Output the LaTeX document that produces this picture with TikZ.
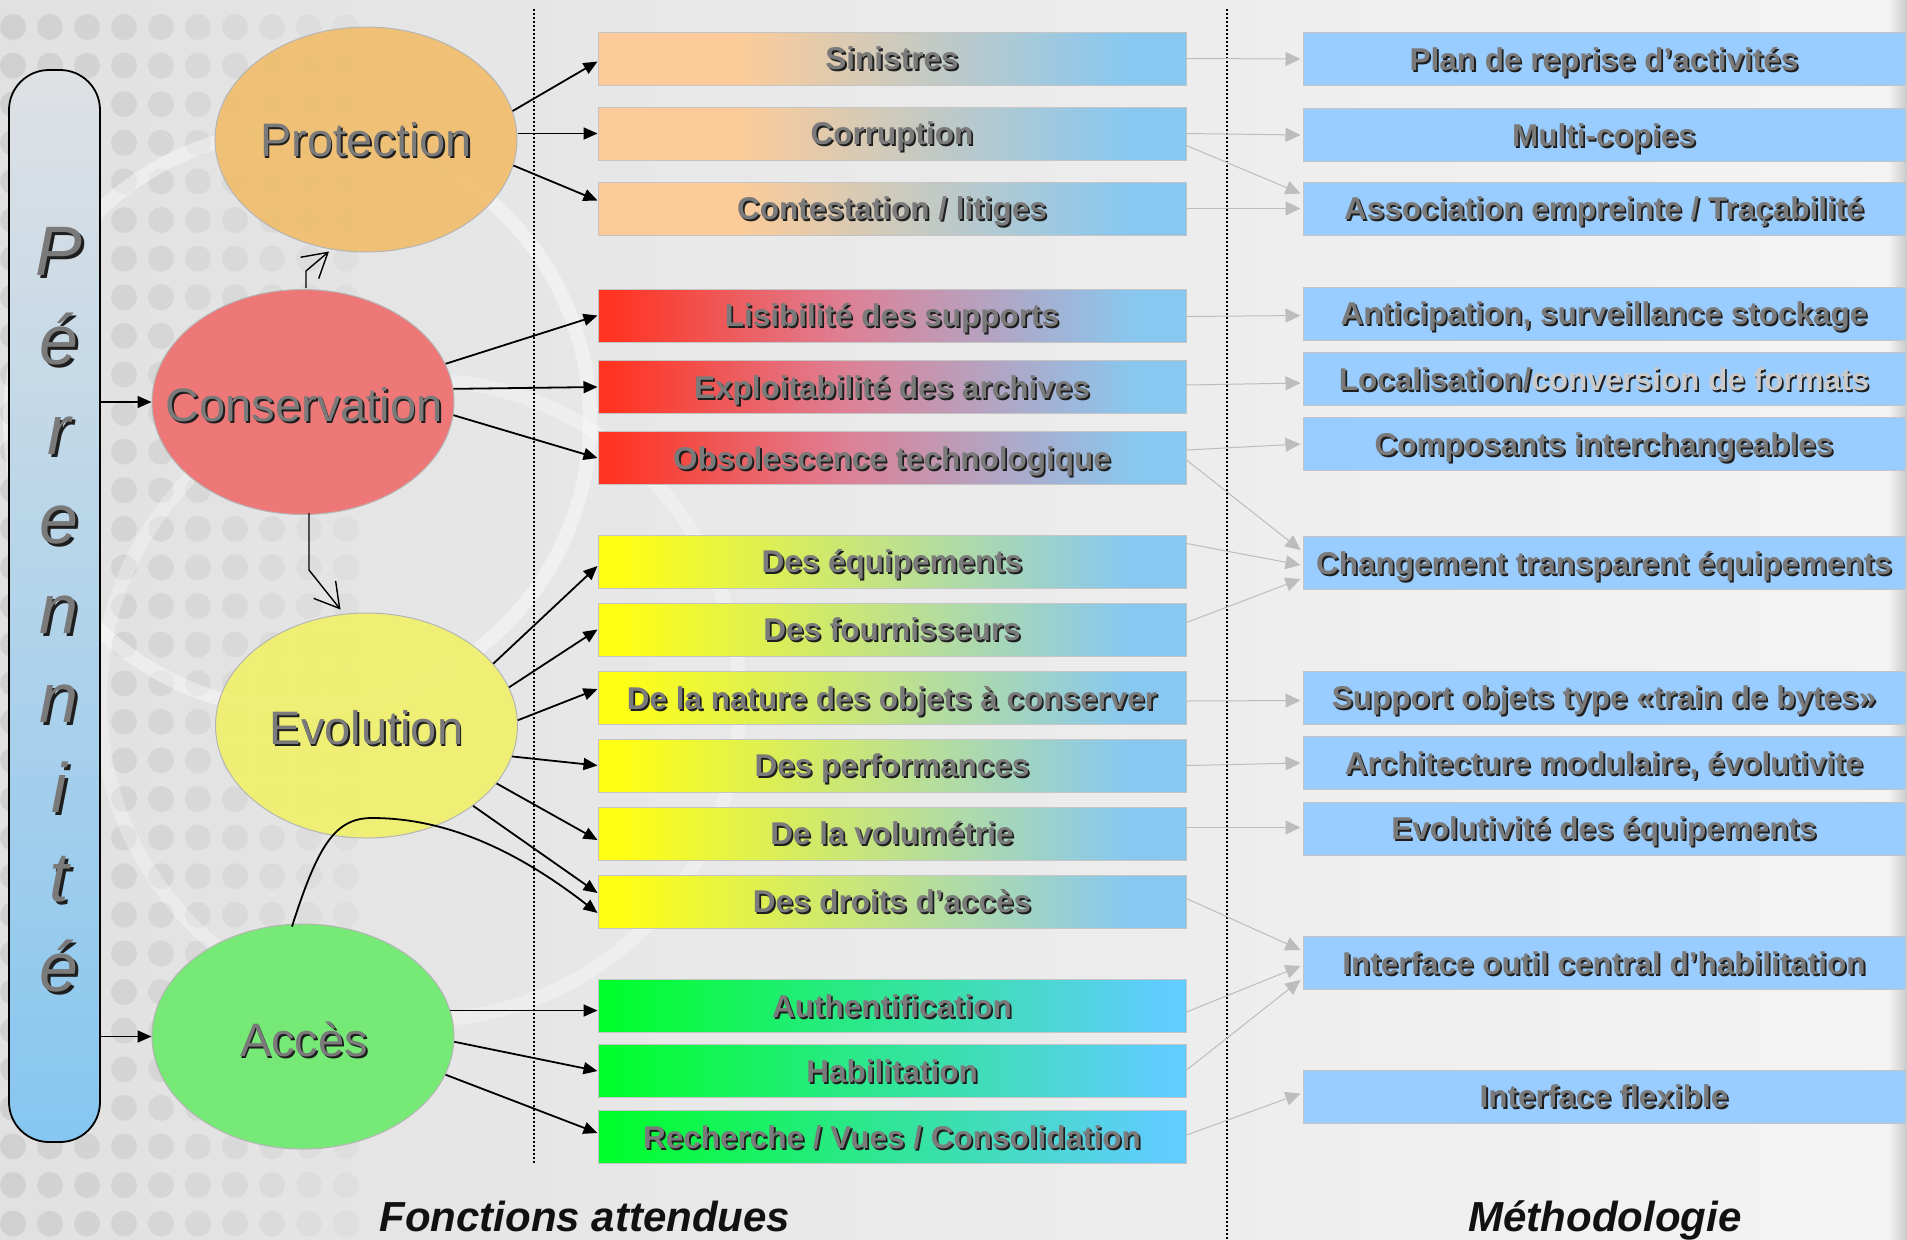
\documentclass[tikz,border=0pt]{standalone}
\usepackage{fontspec}
\setmainfont{Liberation Sans}
\usetikzlibrary{arrows.meta,calc,shapes.geometric}
\definecolor{bgL}{HTML}{E1E1E1}
\definecolor{bgR}{HTML}{F4F4F4}
\definecolor{dotc}{HTML}{D0D0D0}
\definecolor{cPeach}{HTML}{FCCB99}
\definecolor{cBlue}{HTML}{88C8F0}
\definecolor{cRed}{HTML}{FF3320}
\definecolor{cPink}{HTML}{DE8095}
\definecolor{cYel}{HTML}{FFFF14}
\definecolor{cGrn}{HTML}{00FF2C}
\definecolor{cCyan}{HTML}{60CCFF}
\definecolor{rfill}{HTML}{99CCFF}
\definecolor{boxb}{HTML}{C4C4C4}
\definecolor{gline}{HTML}{BDBDBD}
\definecolor{txg}{HTML}{7A7A7A}
\definecolor{txl}{HTML}{CACACA}
\definecolor{shd}{HTML}{1E1E1E}
\definecolor{ellb}{HTML}{B5B5B5}
\definecolor{eOr}{HTML}{F0BE6E}
\definecolor{eRd}{HTML}{EF7070}
\definecolor{eYe}{HTML}{F0F06E}
\definecolor{eGr}{HTML}{6EEA6E}
\definecolor{barT}{HTML}{DFE1E4}
\definecolor{barB}{HTML}{86C6F0}
\definecolor{stripc}{HTML}{CACACA}
\definecolor{titc}{HTML}{111111}
\pgfdeclarehorizontalshading{shPeach}{100bp}{color(0bp)=(cPeach); color(25bp)=(cPeach); color(37bp)=(cPeach); color(70bp)=(cBlue); color(100bp)=(cBlue)}
\pgfdeclarehorizontalshading{shRed}{100bp}{color(0bp)=(cRed); color(26bp)=(cRed); color(46bp)=(cPink); color(71bp)=(cBlue); color(100bp)=(cBlue)}
\pgfdeclarehorizontalshading{shYel}{100bp}{color(0bp)=(cYel); color(27bp)=(cYel); color(70bp)=(cBlue); color(100bp)=(cBlue)}
\pgfdeclarehorizontalshading{shGrn}{100bp}{color(0bp)=(cGrn); color(26bp)=(cGrn); color(73bp)=(cCyan); color(100bp)=(cCyan)}
\newcommand\lc[1]{\textcolor{txl}{#1}}
\newcommand\sht[1]{\makebox[0pt][l]{\kern0.9pt\raisebox{-0.9pt}{\let\lc\relax\textcolor{shd}{#1}}}\textcolor{txg}{#1}}
\newcommand\shp[1]{\makebox[0pt][l]{\kern1.5pt\raisebox{-1.5pt}{\textcolor{shd}{#1}}}\textcolor{txg}{#1}}
\begin{document}
\begin{tikzpicture}[x=0.5pt,y=-0.5pt,
 ell/.style={ellipse, draw=ellb, line width=0.5pt, minimum width=151pt, minimum height=112.5pt, inner sep=0pt, fill opacity=0.93},
 etxt/.style={font=\fontsize{23.5pt}{26pt}\selectfont, text height=16.8pt, text depth=0pt, inner sep=0pt},
 lbox/.style={draw=boxb, line width=0.5pt, minimum width=294pt, minimum height=26.5pt, inner sep=0pt, font=\fontsize{15.75pt}{18pt}\selectfont\bfseries, text height=11.3pt, text depth=0pt},
 rbox/.style={lbox, minimum width=301pt, fill=rfill},
 pk/.style={lbox, shade, shading=shPeach},
 rd/.style={lbox, shade, shading=shRed},
 ye/.style={lbox, shade, shading=shYel},
 gr/.style={lbox, shade, shading=shGrn},
 barr/.style={line width=0.9pt, -{Triangle[length=7pt,width=6pt]}},
 oarr/.style={line width=0.7pt, -{Straight Barb[length=12pt,width=14pt]}},
 garr/.style={draw=gline, line width=0.5pt, -{Triangle[length=7.5pt,width=7pt]}},
 dline/.style={line width=0.6pt, dash pattern=on 1pt off 1pt},
 perl/.style={font=\fontsize{35pt}{40pt}\selectfont\itshape, inner sep=0pt, anchor=base},
 titl/.style={font=\fontsize{21pt}{24pt}\selectfont\bfseries\itshape, text=titc, inner sep=0pt, anchor=base}
]
\useasboundingbox (0,0) rectangle (1907,1239);
% background
\shade[left color=bgL, right color=bgR] (0,0) rectangle (1907,1239);
\foreach \i in {0,...,9}{\foreach \j in {0,...,31}{\pgfmathsetmacro\op{0.95-0.075*\i}\fill[dotc, fill opacity=\op] ({13+37*\i},{27+38.6*\j}) circle (13);}}
\draw[white, line width=7pt, opacity=0.4] (300,420) circle (290);
\draw[white, line width=7pt, opacity=0.3] (420,700) circle (320);
\shade[left color=bgR, right color=stripc] (1888,0) rectangle (1907,1239);
\draw[dline] (534,9) -- (534,1163);
\draw[dline] (1227,9) -- (1227,1239);
% Perennite bar
\node[draw, line width=0.9pt, rounded corners=20pt, minimum width=45.5pt, minimum height=536pt, inner sep=0pt, top color=barT, bottom color=barB] (bar) at (54.5,606) {};
\node[perl] (l1) at (59,275) {\shp{P}};
\node[perl] (l2) at (59,364.5) {\shp{é}};
\node[perl] (l3) at (59,454) {\shp{r}};
\node[perl] (l4) at (59,543.5) {\shp{e}};
\node[perl] (l5) at (59,633) {\shp{n}};
\node[perl] (l6) at (59,722.5) {\shp{n}};
\node[perl] (l7) at (59,812) {\shp{i}};
\node[perl] (l8) at (59,901.5) {\shp{t}};
\node[perl] (l9) at (59,991) {\shp{é}};
% ellipses
\node[ell, fill=eOr] (prot) at (366,139.5) {};
\node[ell, fill=eRd] (cons) at (303,402) {};
\node[ell, fill=eYe] (evo) at (366.5,725.5) {};
\node[ell, fill=eGr] (acc) at (303,1036.5) {};
% left boxes
\node[pk] (sin) at (892,58.5) {\sht{Sinistres}};
\node[pk] (corr) at (892,133.5) {\sht{Corruption}};
\node[pk] (cont) at (892,208.5) {\sht{Contestation / litiges}};
\node[rd] (lis) at (892,315.5) {\sht{Lisibilité des supports}};
\node[rd] (expl) at (892,387) {\sht{Exploitabilité des archives}};
\node[rd] (obs) at (892,458) {\sht{Obsolescence technologique}};
\node[ye] (equip) at (892,561.5) {\sht{Des équipements}};
\node[ye] (four) at (892,629.5) {\sht{Des fournisseurs}};
\node[ye] (nat) at (892,698) {\sht{De la nature des objets à conserver}};
\node[ye] (perf) at (892,765.5) {\sht{Des performances}};
\node[ye] (vol) at (892,833.5) {\sht{De la volumétrie}};
\node[ye] (droits) at (892,901.5) {\sht{Des droits d’accès}};
\node[gr] (auth) at (892,1006) {\sht{Authentification}};
\node[gr] (hab) at (892,1071) {\sht{Habilitation}};
\node[gr] (rech) at (892,1137) {\sht{Recherche / Vues / Consolidation}};
% right boxes
\node[rbox] (plan) at (1604,59) {\sht{Plan de reprise d’activités}};
\node[rbox] (multi) at (1604,135) {\sht{Multi-copies}};
\node[rbox] (assoc) at (1604,208.5) {\sht{Association empreinte / Traçabilité}};
\node[rbox] (antic) at (1604,313.5) {\sht{Anticipation, surveillance stockage}};
\node[rbox] (loc) at (1604,379) {\sht{Localisation/\lc{conversion de formats}}};
\node[rbox] (comp) at (1604,444) {\sht{Composants interchangeables}};
\node[rbox] (chg) at (1604,563) {\sht{Changement transparent équipements}};
\node[rbox] (supp) at (1604,697.5) {\sht{Support objets type «train de bytes»}};
\node[rbox] (arch) at (1604,763) {\sht{Architecture modulaire, évolutivite}};
\node[rbox] (evol) at (1604,828.5) {\sht{Evolutivité des équipements}};
\node[rbox] (intf) at (1604,963) {\sht{Interface outil central d’habilitation}};
\node[rbox] (flex) at (1604,1096.5) {\sht{Interface flexible}};
% gray connectors
\draw[garr] (sin.east) -- ($(plan.west)+(-2,0)$);
\draw[garr] (corr.east) -- ($(multi.west)+(-2,0)$);
\draw[garr] ($(corr.east)+(0,12)$) -- ($(assoc.west)+(-2,-15)$);
\draw[garr] (cont.east) -- ($(assoc.west)+(-2,0)$);
\draw[garr] ($(lis.east)+(0,1)$) -- ($(antic.west)+(-2,2)$);
\draw[garr] ($(expl.east)+(0,-2)$) -- ($(loc.west)+(-2,4)$);
\draw[garr] ($(obs.east)+(0,-8)$) -- ($(comp.west)+(-2,0)$);
\draw[garr] ($(obs.east)+(0,2)$) -- ($(chg.west)+(-2,-13)$);
\draw[garr] ($(equip.east)+(0,-18)$) -- ($(chg.west)+(-2,2)$);
\draw[garr] ($(four.east)+(0,-7)$) -- ($(chg.west)+(-2,16)$);
\draw[garr] ($(nat.east)+(0,3)$) -- ($(supp.west)+(-2,3)$);
\draw[garr] (perf.east) -- ($(arch.west)+(-2,0)$);
\draw[garr] ($(vol.east)+(0,-6)$) -- ($(evol.west)+(-2,-1)$);
\draw[garr] ($(droits.east)+(0,-3)$) -- ($(intf.west)+(-2,-13)$);
\draw[garr] ($(auth.east)+(0,6)$) -- ($(intf.west)+(-2,3)$);
\draw[garr] ($(hab.east)+(0,-1)$) -- ($(intf.west)+(-2,17)$);
\draw[garr] ($(rech.east)+(0,-2)$) -- ($(flex.west)+(-2,-3)$);
% black connectors
\draw[barr] (cons.west -| bar.east) -- (cons.west);
\draw[barr] (acc.west -| bar.east) -- (acc.west);
\draw[oarr] ($(cons.north)+(3,-1)$) -- ++(0,-17) -- ($(prot.south)+(-37,-1)$);
\draw[oarr] ($(cons.south)+(6,-2)$) -- ++(0,57) -- ($(evo.north)+(-26,-3)$);
\draw[barr] (prot.11) -- ($(sin.west)+(0,3)$);
\draw[barr] (corr.west -| prot.east) -- (corr.west);
\draw[barr] (prot.-10) -- ($(cont.west)+(0,-8)$);
\draw[barr] (cons.15) -- (lis.west);
\draw[barr] (cons.5) -- (expl.west);
\draw[barr] (cons.-5) -- (obs.west);
\draw[barr] (evo.26) -- ($(equip.west)+(0,4.5)$);
\draw[barr] (evo.15) -- (four.west);
\draw[barr] (evo.2) -- ($(nat.west)+(0,-9)$);
\draw[barr] (evo.-12) -- (perf.west);
\draw[barr] (evo.-24) -- ($(vol.west)+(0,6.5)$);
\draw[barr] (evo.-37) -- ($(droits.west)+(0,-8.5)$);
\draw[barr] ($(acc.north)+(-11,3)$) .. controls (318,845) and (335,818) .. (372,818) .. controls (440,818) and (510,845) .. ($(droits.west)+(0,11.5)$);
\draw[barr] (acc.10) -- (acc.10 -| auth.west);
\draw[barr] (acc.-2) -- (hab.west);
\draw[barr] (acc.-15) -- ($(rech.west)+(0,-4)$);
% ellipse texts
\node[etxt] (tprot) at (prot.center) {\sht{Protection}};
\node[etxt] (tcons) at ($(cons.center)+(1,3)$) {\sht{Conservation}};
\node[etxt] (tevo) at ($(evo.center)+(0,2)$) {\sht{Evolution}};
\node[etxt] (tacc) at ($(acc.center)+(1,3)$) {\sht{Accès}};
% titles
\node[titl] (tfonc) at (585,1231) {Fonctions attendues};
\node[titl] (tmeth) at (1605,1231) {Méthodologie};
\end{tikzpicture}
\end{document}
